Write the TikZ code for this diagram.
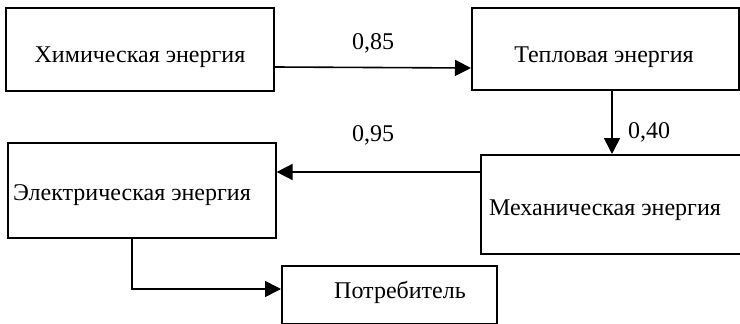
\documentclass[tikz,border=0pt]{standalone}
\usepackage{fontspec}
\setmainfont{Liberation Serif}
\usetikzlibrary{arrows.meta}
\tikzset{
  box/.style={draw=black, line width=1.6pt, rectangle, inner sep=0pt, anchor=north west},
  txt/.style={inner sep=0pt, anchor=base, font=\fontsize{24}{28}\selectfont},
  lbl/.style={inner sep=0pt, anchor=base west, font=\fontsize{24}{28}\selectfont},
  conn/.style={line width=1.6pt, -{Triangle[length=16pt,width=16pt]}}
}
\begin{document}
\begin{tikzpicture}[x=1pt,y=-1pt]
\useasboundingbox (0,0) rectangle (740,324);
\fill[white] (0,0) rectangle (740,324);
% boxes
\node[box, minimum width=268pt, minimum height=83pt] (chem) at (5,7) {};
\node[box, minimum width=267pt, minimum height=82pt] (heat) at (471,7) {};
\node[box, minimum width=268pt, minimum height=99pt] (mech) at (480,154) {};
\node[box, minimum width=268pt, minimum height=95pt] (elec) at (7,142) {};
\node[box, minimum width=215pt, minimum height=58pt] (cons) at (281,265) {};
% texts
\node[txt] (tchem) at (140,62) {Химическая энергия};
\node[txt] (theat) at (604,63) {Тепловая энергия};
\node[txt] (tmech) at (605,215) {Механическая энергия};
\node[txt] (telec) at (132,200) {Электрическая энергия};
\node[txt] (tcons) at (400,298) {Потребитель};
% labels
\node[lbl] (l1) at (352,49) {0,85};
\node[lbl] (l2) at (628,138) {0,40};
\node[lbl] (l3) at (352,141) {0,95};
% connectors
\coordinate (c1s) at (273,67);
\coordinate (c1e) at (471,68);
\draw[conn] (chem.east |- c1s) -- (c1e);
\draw[conn] (heat.south -| 612,0) -- (mech.north -| 612,0);
\draw[conn] (mech.west |- 0,172) -- (elec.east |- 0,172);
\coordinate (bend) at (132,289);
\draw[conn] (elec.south -| bend) -- (bend) -- (cons.west |- bend);
\end{tikzpicture}
\end{document}
